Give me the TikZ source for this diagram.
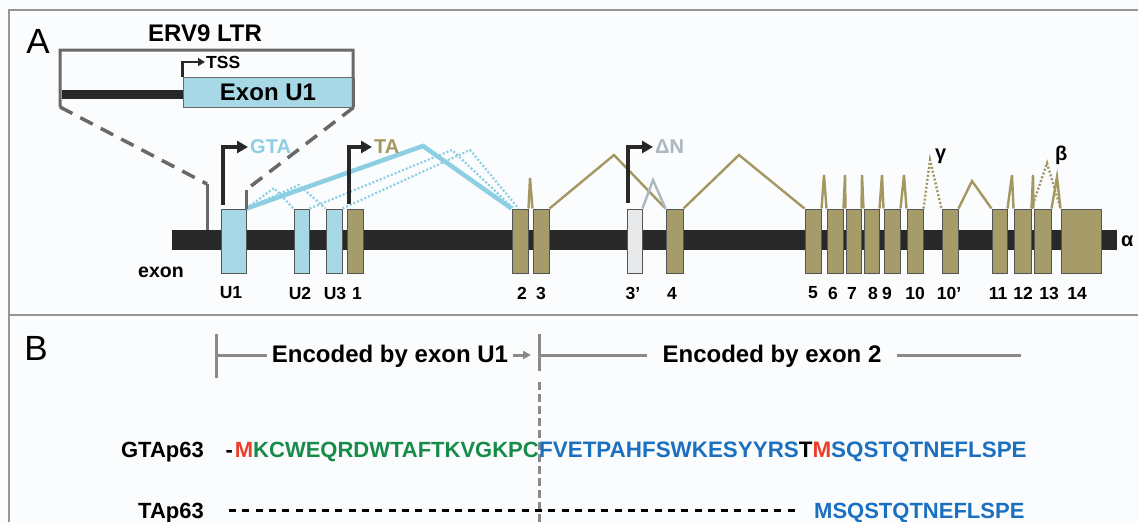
\documentclass[tikz,border=0pt]{standalone}
\usepackage{fontspec}
\setmainfont{Liberation Sans}
\usetikzlibrary{arrows.meta,positioning,calc}
\definecolor{exblue}{RGB}{166,216,230}
\definecolor{blueln}{RGB}{140,206,226}
\definecolor{exolive}{RGB}{166,156,106}
\definecolor{oliveln}{RGB}{163,152,98}
\definecolor{exgray}{RGB}{231,233,235}
\definecolor{dngray}{RGB}{172,183,191}
\definecolor{exline}{RGB}{85,85,85}
\definecolor{barc}{RGB}{40,40,40}
\definecolor{insetc}{RGB}{105,105,105}
\definecolor{rngc}{RGB}{138,138,138}
\definecolor{framec}{RGB}{150,150,150}
\definecolor{bgc}{RGB}{251,252,253}
\definecolor{seqgreen}{RGB}{22,140,72}
\definecolor{seqblue}{RGB}{28,112,192}
\definecolor{seqred}{RGB}{236,62,40}
\newcommand{\fsz}[1]{\fontsize{#1}{#1}\selectfont}

\begin{document}
\begin{tikzpicture}[x=1pt, y=-1pt,
  exon/.style={draw=exline, line width=1pt, fill=exolive, minimum width=16pt, minimum height=64pt, inner sep=0pt},
  uexon/.style={exon, fill=exblue},
  num/.style={font=\fsz{17.5}\bfseries, inner sep=0pt},
  tag/.style={font=\fsz{20}\bfseries, inner xsep=2pt, inner ysep=0pt, anchor=west},
  tss/.style={draw=barc, line width=4pt, -{Triangle[length=11pt, width=12pt]}},
  splice/.style={draw=oliveln, line width=2.4pt},
  bsplice/.style={draw=blueln, line width=4.5pt},
  dsplice/.style={draw=blueln, line width=2.2pt, dash pattern=on 2pt off 2pt},
  zoomln/.style={draw=insetc, line width=3.5pt, dash pattern=on 14pt off 9pt},
  rng/.style={draw=rngc, line width=3pt},
  seq/.style={font=\fsz{22}\bfseries, inner sep=0pt}
]
\fill[bgc] (0,0) rectangle (1138,522);
\useasboundingbox (0,0) rectangle (1138,522);
\draw[framec, line width=1.5pt] (9,522) -- (9,10) -- (1138,10);
\draw[framec, line width=1.5pt] (9,315) -- (1138,315);

\node[font=\fsz{35}] (pa) at (38,41) {A};
\node[font=\fsz{35}] (pb) at (36,348) {B};

% gene with exons
\node[fill=barc, minimum width=945pt, minimum height=20pt, inner sep=0pt] (gene) at (644.5,240) {};

\node[uexon, minimum width=25pt] (u1) at (233.5,241) {};
\node[uexon, minimum width=15pt] (u2) at (301.5,241) {};
\node[uexon] (u3) at (334,241) {};
\node[exon] (e1) at (355,241) {};
\node[exon] (e2) at (520,241) {};
\node[exon] (e3) at (541,241) {};
\node[exon, fill=exgray, minimum width=15pt] (e3p) at (634.5,241) {};
\node[exon, minimum width=17pt] (e4) at (674.5,241) {};
\node[exon] (e5) at (813,241) {};
\node[exon] (e6) at (835,241) {};
\node[exon, minimum width=15pt] (e7) at (853.5,241) {};
\node[exon, minimum width=15pt] (e8) at (871.5,241) {};
\node[exon] (e9) at (892,241) {};
\node[exon] (e10) at (915,241) {};
\node[exon] (e10p) at (950,241) {};
\node[exon, minimum width=15pt] (e11) at (999.5,241) {};
\node[exon, minimum width=17pt] (e12) at (1022.5,241) {};
\node[exon, minimum width=17pt] (e13) at (1042.5,241) {};
\node[exon, minimum width=40pt] (e14) at (1081,241) {};

\node[num] (lu1) at (231,293) {U1};
\node[num] (lu2) at (300,293) {U2};
\node[num] (lu3) at (335,293) {U3};
\node[num] (l1) at (357,293) {1};
\node[num] (l2) at (522,293) {2};
\node[num] (l3) at (541,293) {3};
\node[num] (l3p) at (633,293) {3'};
\node[num] (l4) at (672,293) {4};
\node[num] (l5) at (813,293) {5};
\node[num] (l6) at (833,293) {6};
\node[num] (l7) at (852,293) {7};
\node[num] (l8) at (873,293) {8};
\node[num] (l9) at (887,293) {9};
\node[num] (l10) at (915,293) {10};
\node[num] (l10p) at (949,293) {10'};
\node[num] (l11) at (998,293) {11};
\node[num] (l12) at (1023,293) {12};
\node[num] (l13) at (1049,293) {13};
\node[num] (l14) at (1077,293) {14};
\node[font=\fsz{19.5}\bfseries] (exlab) at (161,272) {exon};

% splicing
\draw[dsplice] (u1.north east) -- (274,188) -- (u2.north west);
\draw[dsplice] (u1.north east) -- (299,185) -- (u3.north west);
\draw[dsplice] (u2.north east) -- (452,150) -- ($(e2.north west)+(2,0)$);
\draw[dsplice] (u3.north east) -- (470,150) -- ($(e2.north west)+(7,0)$);
\draw[bsplice] (u1.north east) -- (423,146) -- (e2.north west);
\draw[splice] (e2.north east) -- (530,178) -- (e3.north west);
\draw[splice] (e3.north east) -- (614,155) -- (e4.north west);
\draw[splice, draw=dngray] (e3p.north east) -- (653,180) -- (e4.north west);
\draw[splice] (e4.north east) -- (739,155) -- (e5.north west);
\draw[splice] (e5.north east) -- (824,175) -- (e6.north west);
\draw[splice] (e6.north east) -- (845,175) -- (e7.north west);
\draw[splice] (e7.north east) -- (862,175) -- (e8.north west);
\draw[splice] (e8.north east) -- (882,175) -- (e9.north west);
\draw[splice] (e9.north east) -- (904,175) -- (e10.north west);
\draw[splice, dash pattern=on 2pt off 2pt] (e10.north east) -- (930,160) -- (e10p.north west);
\draw[splice] (e10p.north east) -- (972,181) -- (e11.north west);
\draw[splice] (e11.north east) -- (1012,175) -- (e12.north west);
\draw[splice] (e12.north east) -- (1033,175) -- (e13.north west);
\draw[splice, dash pattern=on 2pt off 2pt] (e12.north east) -- (1047,163) -- (e14.north west);
\draw[splice] (e13.north east) -- (1057,177) -- (e14.north west);

\node[tag] (gam) at (933,156) {γ};
\node[tag] (bet) at (1053,155) {β};
\node[tag] (alp) at (1119,241) {α};

% promoters
\node[tag, text=blueln] (gta) at (248,147) {GTA};
\node[tag, text=oliveln] (ta) at (372,147) {TA};
\node[tag, text=dngray] (dn) at (653,147) {ΔN};
\draw[tss] ($(u1.north west)+(2,-4)$) |- (gta.west);
\draw[tss] ($(e1.north west)+(2,-5)$) |- (ta.west);
\draw[tss] ($(e3p.north west)+(1,-6)$) |- (dn.west);

% ERV9 LTR inset
\node[font=\fsz{24}\bfseries] (erv) at (205,33) {ERV9 LTR};
\node[uexon, draw=insetc, minimum width=170pt, minimum height=30pt, font=\fsz{24}\bfseries] (inu1) at (268,92) {Exon U1};
\node[fill=barc, minimum width=121pt, minimum height=9pt, inner sep=0pt] (ltrbar) at (122.5,94.5) {};
\coordinate (bl) at (60,107);
\coordinate (bt) at (353,50);
\draw[insetc, line width=3pt] (bl) |- (bt) -- (inu1.south east);
\node[font=\fsz{17.5}\bfseries, inner xsep=1pt, inner ysep=0pt, anchor=west] (tss) at (205,62) {TSS};
\draw[tss, line width=2.5pt, -{Triangle[length=7pt, width=8pt]}] (inu1.north west) |- (tss.west);
\coordinate (zl) at (207,184);
\coordinate (zr) at ($(u1.north east)+(0,-19)$);
\draw[zoomln] (bl) -- (zl);
\draw[insetc, line width=3pt] (zl) -- (zl |- gene.north);
\draw[zoomln] (inu1.south east) -- (zr);
\draw[insetc, line width=3pt] (zr) -- (u1.north east);

% panel B
\node[font=\fsz{24}\bfseries, inner xsep=5pt] (enc1) at (390,356) {Encoded by exon U1};
\node[font=\fsz{24}\bfseries, inner xsep=15pt] (enc2) at (772,356) {Encoded by exon 2};
\coordinate (t1) at (216,355);
\coordinate (t2) at (539,355);
\coordinate (t3) at (1021,355);
\coordinate (bot) at (539,522);
\draw[rng] (t1) -- (enc1.west |- t1);
\draw[rng, -{Triangle[length=8pt, width=8pt]}] (enc1.east |- t1) -- ($(t2)+(-8,0)$);
\draw[rng] (t2) -- (enc2.west |- t2);
\draw[rng] (enc2.east |- t3) -- (t3);
\draw[rng] ($(t1)+(0,-21)$) -- ($(t1)+(0,23)$);
\draw[rng] ($(t2)+(0,-21)$) -- ($(t2)+(0,16)$);
\draw[rng, dash pattern=on 8pt off 4pt] ($(t2)+(0,27)$) -- (bot);

\node[seq, anchor=base east] (gname) at (204,457) {GTAp63};
\node[seq, anchor=base east] (gleft) at (539,457) {-\hspace{2pt}\textcolor{seqred}{M}\textcolor{seqgreen}{KCWEQRDWTAFTKVGKPC}};
\node[seq, font=\fsz{22.4}\bfseries, anchor=base west, text=seqblue] (gright) at (539,457) {FVETPAHFSWKESYYRS\textcolor{black}{T}\textcolor{seqred}{M}SQSTQTNEFLSPE};
\node[seq, anchor=base east] (tname) at (204,518) {TAp63};
\node[seq, anchor=base west, text=seqblue] (tseq) at (814,518) {MSQSTQTNEFLSPE};
\coordinate (d0) at (229,510);
\draw[black, line width=3pt, dash pattern=on 7pt off 6.3pt] (d0) -- ($(tseq.west |- d0)+(-18,0)$);
\end{tikzpicture}
\end{document}
